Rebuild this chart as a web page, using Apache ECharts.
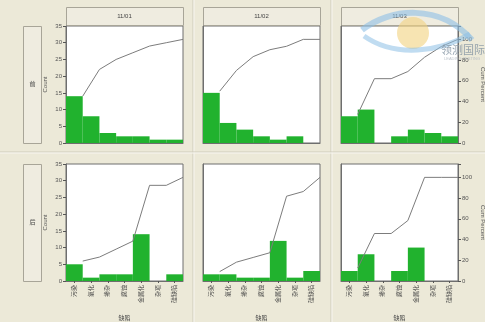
<!DOCTYPE html>
<html><head><meta charset="utf-8">
<script src="https://cdn.jsdelivr.net/npm/echarts@6/dist/echarts.min.js"></script>
<style>html,body{margin:0;padding:0;background:#fff}#c{width:500px;height:335px}</style>
</head><body><div id="c"></div><script>
// ---- data ----
const categories = ['污染', '氧化', '掺杂', '腐蚀', '金属化', '杂项', '硅缺陷'];
const colLabels = ['11/01', '11/02', '11/03'];
const rowLabels = ['前', '后'];
const before1101 = [14, 8, 3, 2, 2, 1, 1];
const before1102 = [15, 6, 4, 2, 1, 2, 0];
const before1103 = [8, 10, 0, 2, 4, 3, 2];
const after1101 = [5, 1, 2, 2, 14, 0, 2];
const after1102 = [2, 2, 1, 1, 12, 1, 3];
const after1103 = [3, 8, 0, 3, 10, 0, 0];
const countMax = 35;
const countInterval = 5;
const pctRefTotal = 31; // count axis max 35 corresponds to 35/31 of 100%
const pctInterval = 20;

const cells = [
  [before1101, before1102, before1103],
  [after1101, after1102, after1103]
];

// ---- layout ----
const colLeft = [66, 203, 341];
const rowTop = [26, 164];
const W = 117, H = 117;
const FONT = 'Liberation Sans, Noto Sans CJK SC, sans-serif';
const TXT = '#555';

function cumPct(arr) {
  const tot = arr.reduce((a, b) => a + b, 0);
  let s = 0;
  return arr.map((v, i) => { s += v; return [i + 1, s / tot * 100]; });
}

const grid = [], xAxis = [], yAxis = [], series = [];
let g = 0;
for (let r = 0; r < 2; r++) {
  for (let c = 0; c < 3; c++) {
    grid.push({ left: colLeft[c], top: rowTop[r], width: W, height: H, show: true,
      backgroundColor: '#fff', borderColor: '#6e6e6e', borderWidth: 1 });
    const bottomRow = r === 1;
    xAxis.push({ type: 'category', gridIndex: g, data: categories, boundaryGap: true,
      axisLine: { show: true, lineStyle: { color: '#6e6e6e' } },
      axisTick: { show: bottomRow, alignWithLabel: true, length: 2, lineStyle: { color: '#555' } },
      axisLabel: { show: bottomRow, rotate: 90, fontSize: 6, color: '#444', fontFamily: FONT, margin: 4 },
      name: bottomRow ? '缺陷' : '', nameLocation: 'middle', nameGap: 34,
      nameTextStyle: { fontSize: 6, color: '#444', fontFamily: FONT } });
    xAxis.push({ type: 'value', gridIndex: g, min: 0, max: categories.length, show: false });
    yAxis.push({ type: 'value', gridIndex: g, min: 0, max: countMax, interval: countInterval,
      splitLine: { show: false },
      axisLine: { show: true, lineStyle: { color: '#6e6e6e' } },
      axisTick: { show: c === 0, length: 3, lineStyle: { color: '#555' } },
      axisLabel: { show: c === 0, fontSize: 6, color: TXT, fontFamily: FONT, margin: 4 },
      name: c === 0 ? 'Count' : '', nameLocation: 'middle', nameGap: 18,
      nameTextStyle: { fontSize: 6, color: TXT, fontFamily: FONT } });
    yAxis.push({ type: 'value', gridIndex: g, position: 'right', min: 0,
      max: countMax / pctRefTotal * 100, interval: pctInterval,
      splitLine: { show: false },
      axisLine: { show: c === 2, lineStyle: { color: '#6e6e6e' } },
      axisTick: { show: c === 2, length: 3, lineStyle: { color: '#555' } },
      axisLabel: { show: c === 2, fontSize: 6, color: TXT, fontFamily: FONT, margin: 4,
        formatter: v => (Math.abs(v % pctInterval) < 1e-6 ? String(v) : '') },
      name: c === 2 ? 'Cum Percent' : '', nameLocation: 'middle', nameGap: 22, nameRotate: -90,
      nameTextStyle: { fontSize: 6, color: TXT, fontFamily: FONT } });
    const data = cells[r][c];
    series.push({ type: 'bar', xAxisIndex: 2 * g, yAxisIndex: 2 * g, data: data,
      barCategoryGap: 0, barWidth: '100%',
      itemStyle: { color: '#21B22E', borderWidth: 0 }, silent: true });
    series.push({ type: 'line', xAxisIndex: 2 * g + 1, yAxisIndex: 2 * g + 1, data: cumPct(data),
      symbol: 'none', lineStyle: { color: '#7c7c7c', width: 1 }, silent: true, z: 5 });
    g++;
  }
}

const graphic = [
  { type: 'rect', shape: { x: 485, y: 0, width: 15, height: 335 }, style: { fill: '#fff' } },
  { type: 'rect', shape: { x: 0, y: 322, width: 500, height: 13 }, style: { fill: '#fff' } },
  // separators
  { type: 'line', shape: { x1: 193, y1: 0, x2: 193, y2: 322 }, style: { stroke: '#CFCBBB', lineWidth: 1 } },
  { type: 'line', shape: { x1: 194, y1: 0, x2: 194, y2: 322 }, style: { stroke: '#F7F6F0', lineWidth: 1 } },
  { type: 'line', shape: { x1: 331, y1: 0, x2: 331, y2: 322 }, style: { stroke: '#CFCBBB', lineWidth: 1 } },
  { type: 'line', shape: { x1: 332, y1: 0, x2: 332, y2: 322 }, style: { stroke: '#F7F6F0', lineWidth: 1 } },
  { type: 'line', shape: { x1: 0, y1: 152, x2: 485, y2: 152 }, style: { stroke: '#CFCBBB', lineWidth: 1 } },
  { type: 'line', shape: { x1: 0, y1: 153, x2: 485, y2: 153 }, style: { stroke: '#F7F6F0', lineWidth: 1 } }
];
for (let c = 0; c < 3; c++) {
  graphic.push({ type: 'rect', shape: { x: colLeft[c] + 0.5, y: 7.5, width: W, height: 18 },
    style: { fill: '#EFECE0', stroke: '#A8A598', lineWidth: 1 } });
  graphic.push({ type: 'text', x: colLeft[c] + W / 2, y: 16,
    style: { text: colLabels[c], fontSize: 6, fill: '#444', fontFamily: FONT, align: 'center', verticalAlign: 'middle' } });
}
for (let r = 0; r < 2; r++) {
  graphic.push({ type: 'rect', shape: { x: 23.5, y: rowTop[r] + 0.5, width: 18, height: H },
    style: { fill: '#EFECE0', stroke: '#A8A598', lineWidth: 1 } });
  graphic.push({ type: 'text', x: 32.5, y: rowTop[r] + H / 2,
    style: { text: rowLabels[r], fontSize: 6, fill: '#444', fontFamily: FONT, align: 'center', verticalAlign: 'middle' } });
}
// watermark
graphic.push({ type: 'circle', shape: { cx: 413, cy: 33, r: 16 }, style: { fill: '#F2D27E', opacity: 0.6 }, z: 100 });
graphic.push({ type: 'bezierCurve', shape: { x1: 362, y1: 30, cpx1: 390, cpy1: 8, cpx2: 440, cpy2: 3, x2: 472, y2: 40 },
  style: { stroke: '#8DC0E6', lineWidth: 6, fill: null, opacity: 0.6 }, z: 100 });
graphic.push({ type: 'bezierCurve', shape: { x1: 364, y1: 36, cpx1: 395, cpy1: 58, cpx2: 440, cpy2: 52, x2: 470, y2: 34 },
  style: { stroke: '#8DC0E6', lineWidth: 5, fill: null, opacity: 0.55 }, z: 100 });
graphic.push({ type: 'text', x: 441, y: 50, style: { text: '领测国际', fontSize: 11, fill: '#8595A3', opacity: 0.85,
  fontFamily: 'Noto Sans CJK SC', verticalAlign: 'middle' }, z: 101 });
graphic.push({ type: 'text', x: 444, y: 59, style: { text: 'LEADING TESTING', fontSize: 4, fill: '#B0B8C0', opacity: 0.8,
  fontFamily: FONT, verticalAlign: 'middle' }, z: 101 });

const chart = echarts.init(document.getElementById('c'), null, { renderer: 'canvas' });
chart.setOption({
  animation: false,
  backgroundColor: '#ECE9D8',
  grid, xAxis, yAxis, series, graphic
});
</script></body></html>
